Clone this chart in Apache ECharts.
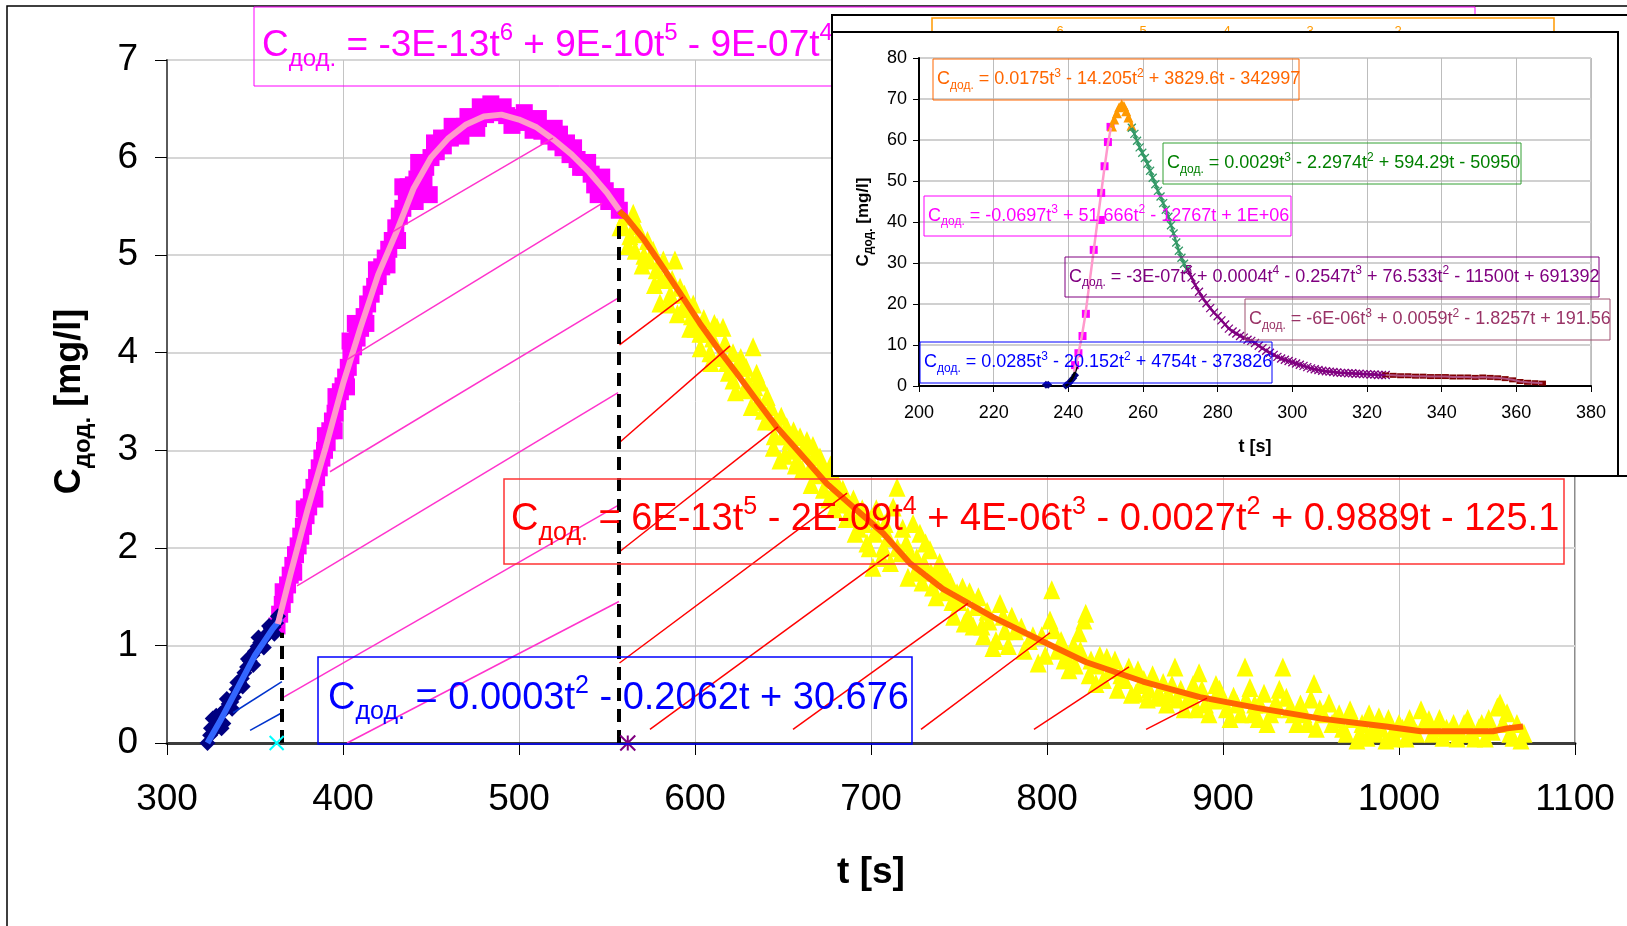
<!DOCTYPE html>
<html>
<head>
<meta charset="utf-8">
<script src="https://cdn.jsdelivr.net/npm/echarts@6/dist/echarts.min.js"></script>
<style>
  html, body { margin: 0; padding: 0; background: #fff; }
  #chart { width: 1627px; height: 926px; }
</style>
</head>
<body>
<div id="chart"></div>
<script>
// ---------- main chart: concentration vs time ----------
const mainXRange = [300, 1100, 100];
const mainYRange = [0, 7, 1];

// rising branch (diamonds)
const navyPts = [[323,0.0],[324.5,0.08],[325,0.15],[326,0.25],[327.5,0.14],[328,0.28],[329,0.22],[330.5,0.3],[331,0.15],[332,0.2],[333.5,0.35],[334,0.45],[335,0.4],[336.5,0.42],[337,0.35],[338,0.47],[339.5,0.55],[340,0.62],[341,0.62],[342.5,0.66],[343,0.58],[344,0.72],[345.5,0.78],[346,0.86],[347,0.84],[348.5,0.9],[349,0.8],[350,0.94],[351.5,0.99],[352,1.08],[353,1.03],[354.5,1.06],[355,0.98],[356,1.09],[357.5,1.13],[358,1.2],[359,1.17],[360.5,1.19],[361,1.12],[362,1.23],[363,1.3]];
const blueFit = [[323,0.0],[330,0.22],[340,0.56],[350,0.9],[360,1.17],[365,1.28]];

// peak branch (squares)
const magentaPts = [[362.5,1.2],[364,1.32],[365.5,1.42],[366,1.55],[367,1.52],[368.5,1.62],[370,1.72],[371.5,1.82],[372,1.75],[373,1.93],[374.5,2.02],[376,2.12],[377.5,2.22],[378,2.4],[379,2.33],[380.5,2.42],[382,2.52],[383.5,2.62],[384,2.5],[385,2.72],[386.5,2.82],[388,2.92],[389.5,3.0],[390,3.15],[391,3.08],[392.5,3.2],[394,3.3],[395,3.2],[395.5,3.38],[396,3.55],[397,3.5],[398.5,3.6],[400,3.66],[401.5,3.75],[402,3.65],[403,3.85],[404,4.12],[404.5,3.97],[406,4.06],[407,4.3],[408,4.15],[410,4.25],[412,4.37],[413,4.3],[414,4.5],[416,4.6],[418,4.68],[419,4.85],[420,4.78],[422,4.88],[424,4.97],[425,4.9],[426,5.06],[428,5.15],[430,5.28],[431,5.15],[432,5.4],[434,5.48],[434,5.7],[436,5.55],[437,5.7],[438,5.62],[440,5.72],[441,5.55],[442,5.78],[443,5.95],[444,5.82],[446,5.75],[447,5.9],[449,5.62],[450,6.0],[452,6.15],[453,6.06],[456,6.2],[457,6.12],[461,6.2],[462,6.32],[465,6.26],[467,6.22],[469,6.32],[471,6.42],[473,6.37],[476,6.3],[477,6.4],[478,6.52],[481,6.44],[484,6.55],[485,6.47],[489,6.46],[491,6.52],[493,6.43],[496,6.33],[497,6.41],[501,6.38],[503,6.46],[505,6.36],[508,6.28],[509,6.32],[511,6.4],[513,6.27],[516,6.28],[517,6.22],[520,6.3],[521,6.16],[523,6.24],[525,6.1],[527,6.15],[529,6.03],[531,6.1],[533,5.98],[535,5.9],[537,5.9],[539,5.95],[541,5.83],[543,5.72],[545,5.76],[545,5.62],[547,5.8],[549,5.66],[551,5.55],[553,5.56],[555,5.6],[557,5.46]];
const pinkFit = [[363,1.22],[370,1.72],[380,2.4],[390,3.02],[400,3.68],[410,4.26],[420,4.8],[430,5.22],[440,5.68],[450,6.0],[460,6.2],[470,6.34],[480,6.42],[490,6.44],[500,6.39],[510,6.31],[520,6.18],[530,6.03],[540,5.85],[550,5.64],[557,5.46]];

// falling branch (triangles)
const yellowPts = [[557.4,5.29],[559,5.3],[560,5.4],[562,5.1],[563,5.2],[564.9,5.43],[566,5.05],[567,5.3],[568.7,5.22],[570,4.9],[571,5.0],[573,5.15],[574,4.95],[576.2,5.05],[577,4.7],[578,4.85],[580.1,4.51],[581,4.75],[582,4.95],[584,4.77],[585,4.5],[586,4.6],[587,4.75],[588.6,4.95],[590,4.4],[591.5,4.67],[593,4.45],[594,4.6],[595.5,4.47],[597,4.25],[598,4.38],[599,4.5],[600,4.25],[602.8,4.2],[603,4.05],[605,4.35],[606,4.2],[608.5,4.0],[609,3.9],[610,4.15],[611,4.3],[612.5,4.26],[614,3.95],[615.9,4.26],[617,4.1],[618,3.9],[619,3.8],[621.6,4.0],[621.6,3.72],[623,3.6],[625,3.85],[626,3.95],[628,3.62],[629,3.85],[630,3.7],[632,3.45],[633,4.06],[634,3.65],[635,3.79],[636,3.5],[637,3.7],[638.8,3.41],[640,3.3],[641,3.55],[643,3.45],[644.5,3.03],[645,3.15],[646,3.3],[648.3,2.9],[649,3.35],[650,3.15],[651,2.95],[652.1,3.24],[654,3.1],[655,3.0],[656,3.2],[657,2.85],[658,2.9],[659.7,3.14],[661,2.8],[662,3.0],[663.6,3.1],[665,2.8],[666,2.65],[667,3.05],[668,2.95],[670,2.75],[671,2.93],[672,2.85],[673,2.6],[675,2.77],[676,2.5],[677,2.85],[678,2.55],[679,2.4],[680,2.7],[681,2.5],[682.4,2.59],[684,2.6],[685,2.45],[686,2.3],[688,2.32],[689,2.45],[690,2.5],[691,2.15],[693,2.2],[694,2.35],[695,2.4],[696,2.25],[697.7,2.05],[699,2.0],[700,2.3],[701.1,1.8],[702,2.15],[703,2.4],[704,2.2],[706,1.9],[707,2.0],[708,2.25],[710,2.1],[711,1.85],[712.6,2.42],[714.8,2.62],[715,2.0],[717,1.95],[718,2.2],[720,2.05],[721,1.7],[722,1.95],[723.9,2.25],[725,1.75],[726,1.9],[727.8,2.15],[729,1.65],[730,1.85],[731,2.05],[733.5,1.98],[734,1.75],[735,1.6],[737,1.5],[738,1.75],[739,1.85],[740.9,1.74],[742,1.55],[743.2,1.7],[745,1.65],[746,1.45],[747,1.3],[748.9,1.54],[750,1.45],[752,1.6],[753,1.23],[755,1.3],[756,1.55],[758,1.2],[760,1.4],[761,1.5],[763,1.2],[764,1.1],[766,1.35],[767,1.25],[769.3,0.98],[771,1.05],[773.3,1.43],[775,1.3],[776,1.15],[778,1.0],[780,1.3],[782,1.15],[785.4,1.19],[787,0.95],[790,1.05],[792,1.1],[795,0.82],[797,1.1],[799,0.9],[801.7,1.26],[802.7,1.57],[803.8,1.16],[806,0.95],[808,1.05],[809.7,0.85],[811,0.9],[812.5,0.75],[815,1.0],[816,0.8],[818.2,1.13],[819,0.95],[821,1.26],[822,1.33],[824,0.7],[825,0.85],[827.8,0.61],[828,0.8],[830,0.9],[832,0.65],[834,0.88],[836,0.75],[838.6,0.85],[840,0.55],[842,0.7],[844,0.65],[846.5,0.78],[848,0.5],[850.5,0.51],[851.7,0.75],[853,0.6],[855,0.65],[857,0.45],[858,0.55],[860,0.7],[862.5,0.47],[864,0.5],[866,0.62],[868,0.4],[869,0.5],[871,0.6],[872.7,0.78],[874,0.45],[876,0.55],[878,0.35],[880,0.45],[882,0.5],[883,0.6],[885,0.35],[886.4,0.72],[888,0.55],[890,0.4],[892,0.3],[894.9,0.44],[896,0.6],[898,0.55],[900,0.45],[902,0.35],[904,0.25],[906,0.48],[908,0.4],[910,0.3],[912.5,0.78],[913,0.45],[915.3,0.57],[917,0.3],[918,0.4],[920,0.25],[921,0.4],[923.3,0.51],[925,0.2],[927,0.3],[929,0.35],[930,0.42],[932,0.55],[934,0.78],[936,0.47],[938,0.35],[940,0.3],[942,0.2],[944,0.4],[946,0.3],[948,0.2],[950,0.45],[951.7,0.61],[953,0.15],[955,0.35],[957,0.3],[960.2,0.41],[962,0.2],[964,0.25],[966,0.3],[968,0.15],[970,0.1],[972.2,0.34],[974,0.25],[976.1,0.03],[978,0.1],[979,0.2],[981.8,0.06],[983,0.3],[985,0.15],[987,0.1],[988.6,0.27],[990,0.15],[992.6,0.03],[994,0.25],[996,0.1],[998,0.05],[1000,0.2],[1002,0.15],[1004,0.05],[1006,0.25],[1008,0.15],[1010,0.1],[1012.5,0.34],[1014,0.2],[1017,0.24],[1019,0.1],[1021,0.16],[1023,0.25],[1025,0.06],[1027,0.15],[1029,0.12],[1031,0.2],[1033,0.05],[1035,0.1],[1037,0.2],[1039,0.25],[1041,0.1],[1043,0.05],[1045.5,0.16],[1047,0.2],[1049,0.05],[1051,0.25],[1053,0.12],[1055.9,0.37],[1057.4,0.41],[1059,0.2],[1061.4,0.31],[1063,0.1],[1064.8,0.06],[1067,0.2],[1069.3,0.03],[1071,0.1]];
const orangeFit = [[557,5.45],[561.2,5.38],[570.6,5.17],[580.1,4.92],[591.5,4.61],[602.8,4.3],[612.3,4.06],[623.7,3.79],[635.1,3.51],[646.4,3.24],[659.7,2.97],[674.8,2.66],[689.8,2.42],[706.9,2.15],[722.2,1.84],[740.8,1.58],[769.3,1.29],[797.7,1.04],[822,0.83],[854.5,0.63],[886.9,0.47],[919.4,0.36],[955.7,0.25],[992.5,0.17],[1012.5,0.12],[1053.4,0.12],[1061.4,0.15],[1070.5,0.17]];

// shaded-area hatching, segment end points [t, C]
const magentaHatch = [[[428.4,5.24],[519.3,6.2]],[[402.3,3.93],[547.2,5.53]],[[392.6,2.78],[556.3,4.56]],[[373.9,1.61],[556.3,3.59]],[[365.3,0.46],[556.8,2.44]],[[402.3,0.0],[556.8,1.45]]];
const blueHatch = [[[337.5,0.31],[365.3,0.63]],[[347.2,0.13],[365.3,0.31]]];
const redHatch = [[[557.1,4.08],[593.2,4.57]],[[557.1,3.08],[619.9,4.07]],[[557.1,1.96],[647.2,3.24]],[[557.1,0.82],[686.4,2.56]],[[574.4,0.14],[710.2,1.93]],[[655.7,0.14],[755.1,1.43]],[[728.4,0.14],[801.7,1.13]],[[792.6,0.14],[846.6,0.78]],[[856.3,0.14],[890.9,0.46]]];

// branch boundaries
const boundaries = [[[365.4,0],[365.4,1.13]],[[556.8,0],[556.8,5.38]]];
const cyanMark = [[362.3,0]];
const starMark = [[561.8,0]];

// ---------- inset chart ----------
const insXRange = [200, 380, 20];
const insYRange = [0, 80, 10];
const insNavy = [[234.0,0.3],[234.6,0.3],[239.3,0.1],[239.8,0.4],[240.3,0.8],[240.8,1.4],[241.3,1.9],[241.8,2.6]];
const insBlackFit = [[239.3,0],[240,0.6],[240.8,1.5],[241.5,2.7],[242.3,4.7]];
const insPink = [[241.8,5.1],[242.7,8.0],[243.8,12.2],[244.7,17.6],[246.8,33.2],[248.7,40.5],[248.8,47.1],[249.7,53.6],[250.6,59.5],[251.3,63.2]];
const insPinkFit = [[241.5,3.5],[242.5,7],[243.5,11.5],[244.5,17],[245.5,24],[246.5,31],[247.5,38],[248.5,45],[249.5,52],[250.5,58.5],[251.5,63.5]];
const insOrange = [[251.7,63.3],[252.3,65],[253.0,66.5],[253.6,68],[254.3,68.7],[254.9,68.3],[255.5,67],[256.1,65.5],[256.9,63.5]];
const insOrangeFit = [[251.5,63],[252.5,66],[253.5,68],[254.5,68.6],[255.5,67.5],[256.5,65],[257.2,63]];
const insGreen = [[257,63],[257.7,61.5],[258.4,59.8],[259.1,58.2],[259.8,56.9],[260.5,55.6],[261.2,54.2],[261.9,52.5],[262.6,50.8],[263.3,49.2],[264,47.6],[264.7,46.2],[265.4,44.6],[266.1,43],[266.8,41.3],[267.5,39.2],[268.2,37.2],[268.9,35],[269.6,33],[270.3,31.3],[271,29.8],[271.7,28.5]];
const insPurple = [[272,28.3],[273,26.5],[274,24.6],[275,23],[276,21.5],[277,20.2],[278,19],[279,17.9],[280,17],[281,16],[282,15],[283,14],[284,13.3],[285,12.8],[286,12.2],[287,11.8],[288,11.3],[289,11],[290,10.5],[291,9.8],[292,9.2],[293,8.6],[294,8.1],[295,7.6],[296,7.1],[297,6.7],[298,6.4],[299,6.1],[300,5.8],[301,5.5],[302,5.2],[303,4.9],[304,4.6],[305,4.3],[306,4.1],[307,3.9],[308,3.7],[309,3.6],[310,3.5],[311,3.4],[312,3.3],[313,3.2],[314,3.2],[315,3.1],[316,3.1],[317,3.0],[318,3.0],[319,2.9],[320,2.9],[321,2.8],[322,2.8],[323,2.7],[324,2.7],[325,2.7]];
const insMaroon = [[325,2.7],[327,2.6],[329,2.5],[331,2.5],[333,2.4],[335,2.4],[337,2.3],[339,2.3],[341,2.3],[343,2.2],[345,2.2],[347,2.2],[349,2.1],[351,2.2],[353,2.1],[355,2.0],[357,1.8],[359,1.5],[361,1.1],[363,0.9],[365,0.8],[367,0.7]];

// trend-line equations (rich-text markup: m = main, s = subscript, p = superscript)
const eqMain = {
  magenta: '{m|C}{s|дод.}{m| = -3E-13t}{p|6}{m| + 9E-10t}{p|5}{m| - 9E-07t}{p|4}',
  red: '{m|C}{s|дод.}{m| = 6E-13t}{p|5}{m| - 2E-09t}{p|4}{m| + 4E-06t}{p|3}{m| - 0.0027t}{p|2}{m| + 0.9889t - 125.1}',
  blue: '{m|C}{s|дод.}{m| = 0.0003t}{p|2}{m| - 0.2062t + 30.676}'
};
const eqInset = {
  orange: '{m|C}{s|дод.}{m| = 0.0175t}{p|3}{m| - 14.205t}{p|2}{m| + 3829.6t - 342997}',
  green: '{m|C}{s|дод.}{m| = 0.0029t}{p|3}{m| - 2.2974t}{p|2}{m| + 594.29t - 50950}',
  magenta: '{m|C}{s|дод.}{m| = -0.0697t}{p|3}{m| + 51.666t}{p|2}{m| - 12767t + 1E+06}',
  purple: '{m|C}{s|дод.}{m| = -3E-07t}{p|5}{m| + 0.0004t}{p|4}{m| - 0.2547t}{p|3}{m| + 76.533t}{p|2}{m| - 11500t + 691392}',
  mauve: '{m|C}{s|дод.}{m| = -6E-06t}{p|3}{m| + 0.0059t}{p|2}{m| - 1.8257t + 191.56}',
  blue: '{m|C}{s|дод.}{m| = 0.0285t}{p|3}{m| - 20.152t}{p|2}{m| + 4754t - 373826}'
};
const hiddenExponents = ['6', '5', '4', '3', '2'];

// ---------- styling helpers ----------
const FONT = '"Liberation Sans", Arial, Helvetica, sans-serif';
const X_PATH = 'path://M0,0L10,10M10,0L0,10';
const STAR_PATH = 'path://M5,0L5,10M0,0L10,10M10,0L0,10';

function richStyles(color, big, small, weight) {
  const w = weight || 'normal';
  const k = big / 37;
  return {
    m: { fontSize: big, lineHeight: Math.round(50 * k), color: color, fontFamily: FONT, fontWeight: w, verticalAlign: 'middle' },
    s: { fontSize: small, lineHeight: small, color: color, fontFamily: FONT, fontWeight: w, verticalAlign: 'bottom' },
    p: { fontSize: small, lineHeight: Math.round(30 * k), color: color, fontFamily: FONT, fontWeight: w, verticalAlign: 'top' }
  };
}

function eqBox(x, y, w, h, color, strokeW, z) {
  return { type: 'rect', z: z, silent: true, shape: { x: x, y: y, width: w, height: h },
           style: { fill: 'none', stroke: color, lineWidth: strokeW } };
}
function eqText(x, y, text, color, big, small, z) {
  return { type: 'text', z: z, silent: true, x: x, y: y,
           style: { text: text, rich: richStyles(color, big, small), align: 'left', verticalAlign: 'middle', fill: color } };
}

function scatter(data, symbol, size, color, axis, z, border) {
  const s = { type: 'scatter', data: data, symbol: symbol, symbolSize: size, xAxisIndex: axis, yAxisIndex: axis,
              z: z, silent: true, itemStyle: { color: color, opacity: 1 } };
  if (border) s.itemStyle = { color: 'rgba(0,0,0,0)', borderColor: border.color, borderWidth: border.width, opacity: 1 };
  return s;
}
function line(data, color, width, axis, z) {
  return { type: 'line', data: data, xAxisIndex: axis, yAxisIndex: axis, z: z, silent: true,
           showSymbol: false, symbol: 'none', smooth: false, lineStyle: { color: color, width: width } };
}
function segments(list, color, width, z, dash) {
  return { type: 'lines', coordinateSystem: 'cartesian2d', xAxisIndex: 0, yAxisIndex: 0, z: z, silent: true,
           data: list.map(c => ({ coords: c })),
           lineStyle: { color: color, width: width, opacity: 1, type: dash || 'solid' } };
}

function valueAxis(range, grid, opts) {
  return Object.assign({
    type: 'value', gridIndex: grid, min: range[0], max: range[1], interval: range[2]
  }, opts);
}

// ---------- option ----------
const plain = v => String(v);
const mainLabel = { color: '#000', fontSize: 37, fontFamily: FONT, formatter: plain };
const insLabel = { color: '#000', fontSize: 18, fontFamily: FONT, formatter: plain };

const option = {
  animation: false,
  backgroundColor: '#fff',
  grid: [
    { left: 167, top: 60, width: 1408, height: 683, show: true, borderColor: '#8c8c8c', borderWidth: 2, backgroundColor: 'transparent', z: 0 },
    { left: 919, top: 58, width: 672, height: 328, show: true, borderColor: '#8c8c8c', borderWidth: 1, backgroundColor: 'transparent', z: 23 }
  ],
  xAxis: [
    valueAxis(mainXRange, 0, {
      z: 1,
      axisLine: { onZero: false, lineStyle: { color: '#3c3c3c', width: 3 } },
      axisTick: { show: true, length: 12, lineStyle: { color: '#000', width: 1 } },
      axisLabel: Object.assign({ margin: 38 }, mainLabel),
      splitLine: { show: true, lineStyle: { color: '#c4c4c4', width: 1 } },
      name: 't [s]', nameLocation: 'middle', nameGap: 108,
      nameTextStyle: { color: '#000', fontSize: 37, fontWeight: 'bold', fontFamily: FONT, lineHeight: 44 }
    }),
    valueAxis(insXRange, 1, {
      z: 23,
      axisLine: { onZero: false, lineStyle: { color: '#000', width: 2 } },
      axisTick: { show: true, length: 6, lineStyle: { color: '#000', width: 1 } },
      axisLabel: Object.assign({ margin: 18 }, insLabel),
      splitLine: { show: true, lineStyle: { color: '#bdbdbd', width: 1 } },
      name: 't [s]', nameLocation: 'middle', nameGap: 50,
      nameTextStyle: { color: '#000', fontSize: 18, fontWeight: 'bold', fontFamily: FONT, lineHeight: 22 }
    })
  ],
  yAxis: [
    valueAxis(mainYRange, 0, {
      z: 1,
      axisLine: { onZero: false, lineStyle: { color: '#5a5a5a', width: 2 } },
      axisTick: { show: true, length: 12, lineStyle: { color: '#000', width: 1 } },
      axisLabel: Object.assign({ margin: 29 }, mainLabel),
      splitLine: { show: true, lineStyle: { color: '#d6d6d6', width: 2 } },
      name: '{m|C}{s|дод.}{m| [mg/l]}', nameLocation: 'middle', nameGap: 72,
      nameTextStyle: { rich: richStyles('#000', 36, 24, 'bold') }
    }),
    valueAxis(insYRange, 1, {
      z: 23,
      axisLine: { onZero: false, lineStyle: { color: '#000', width: 2 } },
      axisTick: { show: true, length: 6, lineStyle: { color: '#000', width: 1 } },
      axisLabel: Object.assign({ margin: 12 }, insLabel),
      splitLine: { show: true, lineStyle: { color: '#d0d0d0', width: 2 } },
      name: '{m|C}{s|дод.}{m| [mg/l]}', nameLocation: 'middle', nameGap: 44,
      nameTextStyle: { rich: richStyles('#000', 17, 12, 'bold') }
    })
  ],
  series: [
    // main chart
    scatter(yellowPts, 'triangle', [17, 19], '#FFFF00', 0, 2),
    scatter(magentaPts, 'rect', 17, '#FF00FF', 0, 2),
    scatter(navyPts, 'diamond', 16, '#000080', 0, 2),
    line(blueFit, '#3366FF', 6, 0, 3),
    line(pinkFit, '#FF99CC', 6, 0, 3),
    line(orangeFit, '#FF6600', 6, 0, 3),
    segments(magentaHatch, '#FF33CC', 1.5, 4),
    segments(blueHatch, '#0033CC', 1.5, 4),
    segments(redHatch, '#FF0000', 1.5, 4),
    segments(boundaries, '#000000', 4, 5, [13, 8]),
    scatter(cyanMark, X_PATH, 14, '#00FFFF', 0, 5, { color: '#00FFFF', width: 2 }),
    scatter(starMark, STAR_PATH, 15, '#800080', 0, 5, { color: '#800080', width: 2 }),
    // inset chart
    scatter(insNavy, 'diamond', 8, '#000080', 1, 24),
    scatter(insPink, 'rect', 8, '#FF00FF', 1, 24),
    scatter(insOrange, 'triangle', 10, '#FF9900', 1, 24),
    scatter(insGreen, X_PATH, 8, '#339966', 1, 24, { color: '#339966', width: 1.3 }),
    scatter(insPurple, X_PATH, 8, '#800080', 1, 24, { color: '#800080', width: 1.3 }),
    scatter(insMaroon, 'rect', [7, 5], '#800000', 1, 24),
    line(insBlackFit, '#000000', 2.5, 1, 25),
    line(insPinkFit, '#FF99CC', 2.5, 1, 25),
    line(insOrangeFit, '#FF9900', 3, 1, 25),
    line(insGreen, '#339966', 2.5, 1, 25),
    line(insPurple, '#800080', 2.5, 1, 25),
    line(insMaroon, '#B05080', 2, 1, 25)
  ],
  graphic: { elements: [
    // outer chart frame
    { type: 'rect', z: 1, silent: true, shape: { x: 7, y: 6, width: 1700, height: 1000 }, style: { fill: 'none', stroke: '#000', lineWidth: 1.5 } },
    // main trend-line equations
    eqBox(254, 7, 1221, 79, '#FF00FF', 1, 6),
    eqText(262, 46, eqMain.magenta, '#FF00FF', 37, 24, 6),
    eqBox(504, 479, 1060, 85, '#FF3333', 1.5, 6),
    eqText(511, 520, eqMain.red, '#FF0000', 38, 25, 6),
    eqBox(318, 657, 594, 87, '#0000FF', 1.5, 6),
    eqText(328, 699, eqMain.blue, '#0000FF', 38, 25, 6),
    // inset panel
    { type: 'rect', z: 20, silent: true, shape: { x: 832, y: 15, width: 830, height: 461 }, style: { fill: '#fff', stroke: '#000', lineWidth: 2 } },
    eqBox(932, 18, 622, 40, '#FF9900', 1.5, 21),
    ...hiddenExponents.map((d, i) => ({ type: 'text', z: 21, silent: true, x: [1060, 1143, 1227, 1310, 1398][i], y: 31,
        style: { text: d, fill: '#FF9900', font: '13px ' + FONT, align: 'center', verticalAlign: 'middle' } })),
    { type: 'rect', z: 22, silent: true, shape: { x: 832, y: 32, width: 786, height: 444 }, style: { fill: '#fff', stroke: '#000', lineWidth: 2 } },
    eqBox(933, 59, 366, 41, '#FF6600', 1, 27),
    eqText(937, 79.5, eqInset.orange, '#FF6600', 18, 12, 27),
    eqBox(1163, 143, 358, 41, '#33A033', 1, 27),
    eqText(1167, 163.5, eqInset.green, '#008000', 18, 12, 27),
    eqBox(924, 196, 367, 40, '#FF00FF', 1, 27),
    eqText(928, 216, eqInset.magenta, '#FF00FF', 18, 12, 27),
    eqBox(1065, 257, 534, 40, '#800080', 1, 27),
    eqText(1069, 277, eqInset.purple, '#800080', 18, 12, 27),
    eqBox(1245, 299, 365, 41, '#A05070', 1, 27),
    eqText(1249, 319.5, eqInset.mauve, '#993366', 18, 12, 27),
    eqBox(920, 342, 352, 41, '#0000FF', 1, 27),
    eqText(924, 362.5, eqInset.blue, '#0000FF', 18, 12, 27)
  ] }
};

const chart = echarts.init(document.getElementById('chart'), null, { renderer: 'canvas', width: 1627, height: 926 });
chart.setOption(option);
</script>
</body>
</html>
